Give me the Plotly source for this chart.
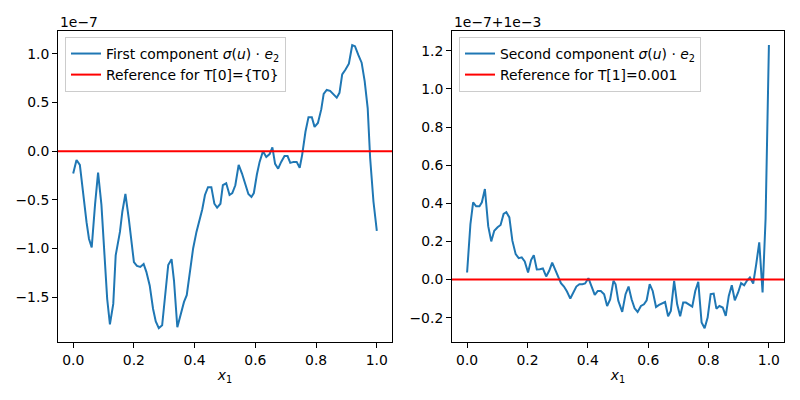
"""Two-panel plot: components of sigma(u) . e2 against reference values."""

import plotly.graph_objects as go
from plotly.subplots import make_subplots

# First component (values shown in units of 1e-7)
x_first = [0.000, 0.011, 0.022, 0.033, 0.044, 0.052, 0.061, 0.072, 0.082, 0.093,
           0.104, 0.112, 0.121, 0.132, 0.140, 0.154, 0.162, 0.172, 0.183, 0.192,
           0.200, 0.210, 0.221, 0.232, 0.241, 0.252, 0.263, 0.272, 0.282, 0.293,
           0.303, 0.313, 0.324, 0.332, 0.343, 0.354, 0.365, 0.374, 0.384, 0.395,
           0.406, 0.417, 0.425, 0.434, 0.444, 0.455, 0.465, 0.474, 0.485, 0.493,
           0.504, 0.515, 0.524, 0.534, 0.545, 0.556, 0.567, 0.577, 0.587, 0.595,
           0.605, 0.614, 0.625, 0.636, 0.647, 0.656, 0.665, 0.675, 0.685, 0.696,
           0.706, 0.715, 0.726, 0.736, 0.746, 0.754, 0.765, 0.775, 0.786, 0.795,
           0.806, 0.817, 0.825, 0.835, 0.846, 0.857, 0.868, 0.877, 0.886, 0.897,
           0.908, 0.919, 0.928, 0.939, 0.950, 0.960, 0.970, 0.978, 0.989, 1.000]
y_first = [-0.23, -0.09, -0.14, -0.45, -0.73, -0.90, -0.99, -0.55, -0.22, -0.55,
           -1.17, -1.52, -1.78, -1.57, -1.07, -0.83, -0.62, -0.44, -0.69, -0.93,
           -1.14, -1.18, -1.19, -1.16, -1.24, -1.38, -1.62, -1.75, -1.82, -1.79,
           -1.48, -1.17, -1.11, -1.33, -1.81, -1.67, -1.55, -1.48, -1.24, -1.00,
           -0.83, -0.71, -0.60, -0.45, -0.37, -0.37, -0.54, -0.58, -0.54, -0.35,
           -0.33, -0.45, -0.43, -0.35, -0.14, -0.23, -0.35, -0.44, -0.47, -0.43,
           -0.24, -0.11, 0.00, -0.06, -0.03, 0.04, -0.13, -0.18, -0.11, -0.05,
           -0.05, -0.12, -0.11, -0.11, -0.17, -0.04, 0.20, 0.35, 0.35, 0.25,
           0.29, 0.43, 0.59, 0.63, 0.62, 0.58, 0.55, 0.60, 0.79, 0.84,
           0.90, 1.09, 1.08, 0.99, 0.91, 0.72, 0.44, -0.07, -0.52, -0.82]

# Second component (values shown as offset from 1e-3, in units of 1e-7)
x_second = [0.000, 0.011, 0.020, 0.030, 0.041, 0.049, 0.059, 0.070, 0.080, 0.090,
            0.101, 0.111, 0.121, 0.130, 0.140, 0.150, 0.161, 0.171, 0.181, 0.191,
            0.202, 0.212, 0.221, 0.231, 0.241, 0.251, 0.262, 0.272, 0.282, 0.292,
            0.302, 0.311, 0.321, 0.331, 0.342, 0.351, 0.362, 0.372, 0.382, 0.391,
            0.402, 0.412, 0.423, 0.433, 0.443, 0.454, 0.464, 0.474, 0.485, 0.492,
            0.501, 0.514, 0.525, 0.535, 0.545, 0.555, 0.565, 0.576, 0.586, 0.595,
            0.605, 0.615, 0.626, 0.636, 0.646, 0.656, 0.666, 0.675, 0.686, 0.696,
            0.706, 0.716, 0.725, 0.735, 0.746, 0.756, 0.766, 0.777, 0.787, 0.797,
            0.807, 0.817, 0.826, 0.836, 0.847, 0.857, 0.867, 0.877, 0.887, 0.898,
            0.908, 0.918, 0.927, 0.937, 0.948, 0.958, 0.968, 0.979, 0.989, 1.000]
y_second = [0.037, 0.29, 0.405, 0.384, 0.384, 0.405, 0.475, 0.28, 0.20, 0.256,
            0.274, 0.286, 0.344, 0.353, 0.326, 0.204, 0.133, 0.112, 0.116, 0.095,
            0.037, 0.102, 0.128, 0.053, 0.054, 0.058, 0.016, 0.046, 0.089, 0.054,
            0.018, -0.019, -0.037, -0.063, -0.100, -0.068, -0.037, -0.025, -0.025, -0.021,
            0.007, -0.035, -0.081, -0.060, -0.060, -0.077, -0.139, -0.104, -0.007, -0.025,
            -0.112, -0.170, -0.077, -0.037, -0.104, -0.151, -0.170, -0.139, -0.130, -0.109,
            -0.025, -0.060, -0.144, -0.133, -0.125, -0.118, -0.193, -0.165, -0.007, -0.130,
            -0.193, -0.121, -0.121, -0.133, -0.142, -0.060, -0.012, -0.226, -0.256, -0.200,
            -0.077, -0.074, -0.153, -0.139, -0.147, -0.191, -0.086, -0.030, -0.109, -0.068,
            -0.019, -0.030, -0.007, 0.011, -0.021, 0.081, 0.195, -0.068, 0.32, 1.23]

# reference levels, in the same displayed units
ref_values = [0.0, 0.0]

x_ticks = [0.0, 0.2, 0.4, 0.6, 0.8, 1.0]
y_ticks_first = [-1.5, -1.0, -0.5, 0.0, 0.5, 1.0]
y_ticks_second = [-0.2, 0.0, 0.2, 0.4, 0.6, 0.8, 1.0, 1.2]

series_names = [
    "First component <i>σ</i>(<i>u</i>) · <i>e</i><sub>2</sub>",
    "Second component <i>σ</i>(<i>u</i>) · <i>e</i><sub>2</sub>",
]
ref_names = ["Reference for T[0]={T0}", "Reference for T[1]=0.001"]
offset_labels = ["1e−7", "1e−7+1e−3"]

BLUE = "#1f77b4"
FONT = dict(family="DejaVu Sans", size=13.9, color="black")

# the page body has an 8px margin, so paper positions are shifted up/left by 8px
fig = make_subplots(rows=1, cols=2)

fig.add_trace(go.Scatter(x=x_first, y=y_first, mode="lines", name=series_names[0],
                         line=dict(color=BLUE, width=2), legend="legend"), row=1, col=1)
fig.add_trace(go.Scatter(x=x_second, y=y_second, mode="lines", name=series_names[1],
                         line=dict(color=BLUE, width=2), legend="legend2"), row=1, col=2)

# axhline equivalents, shown in the legends
for i, (ref, name) in enumerate(zip(ref_values, ref_names)):
    fig.add_shape(type="line", xref="x domain" if i == 0 else "x2 domain",
                  yref="y" if i == 0 else "y2",
                  x0=0, x1=1, y0=ref, y1=ref,
                  line=dict(color="red", width=2),
                  showlegend=True, name=name,
                  legend="legend" if i == 0 else "legend2")

axis_style = dict(showline=True, linecolor="black", linewidth=1, mirror=True,
                  ticks="outside", ticklen=5, tickwidth=1, tickcolor="black",
                  showgrid=False, zeroline=False, tickfont=FONT, automargin=False)

fig.update_xaxes(**axis_style, range=[-0.05, 1.05], tickvals=x_ticks,
                 ticktext=[f"{v:.1f}" for v in x_ticks],
                 title=dict(text="<i>x</i><sub>1</sub>", font=FONT, standoff=3))
fig.update_xaxes(domain=[0.0625, 0.480], row=1, col=1)
fig.update_xaxes(domain=[0.555, 0.970], row=1, col=2)

fig.update_yaxes(**axis_style, domain=[0.164, 0.9425])
fig.update_yaxes(range=[-1.966, 1.236], tickvals=y_ticks_first,
                 ticktext=[f"{v:.1f}".replace("-", "−") for v in y_ticks_first],
                 row=1, col=1)
fig.update_yaxes(range=[-0.33, 1.304], tickvals=y_ticks_second,
                 ticktext=[f"{v:.1f}".replace("-", "−") for v in y_ticks_second],
                 row=1, col=2)

legend_style = dict(bgcolor="rgba(255,255,255,0.8)", bordercolor="#cccccc",
                    borderwidth=1, font=FONT, xanchor="left", yanchor="top",
                    xref="paper", yref="paper", tracegroupgap=0)

fig.update_layout(
    width=800, height=400,
    margin=dict(l=0, r=0, t=0, b=0),
    plot_bgcolor="white", paper_bgcolor="white",
    font=FONT,
    showlegend=True,
    legend=dict(**legend_style, x=0.07125, y=0.9275),
    legend2=dict(**legend_style, x=0.56375, y=0.9275),
)

for x_pos, label in zip([0.0625, 0.555], offset_labels):
    fig.add_annotation(text=label, xref="paper", yref="paper", x=x_pos, y=0.965,
                       xanchor="left", yanchor="middle", showarrow=False, font=FONT)

fig.write_html("out.html")
